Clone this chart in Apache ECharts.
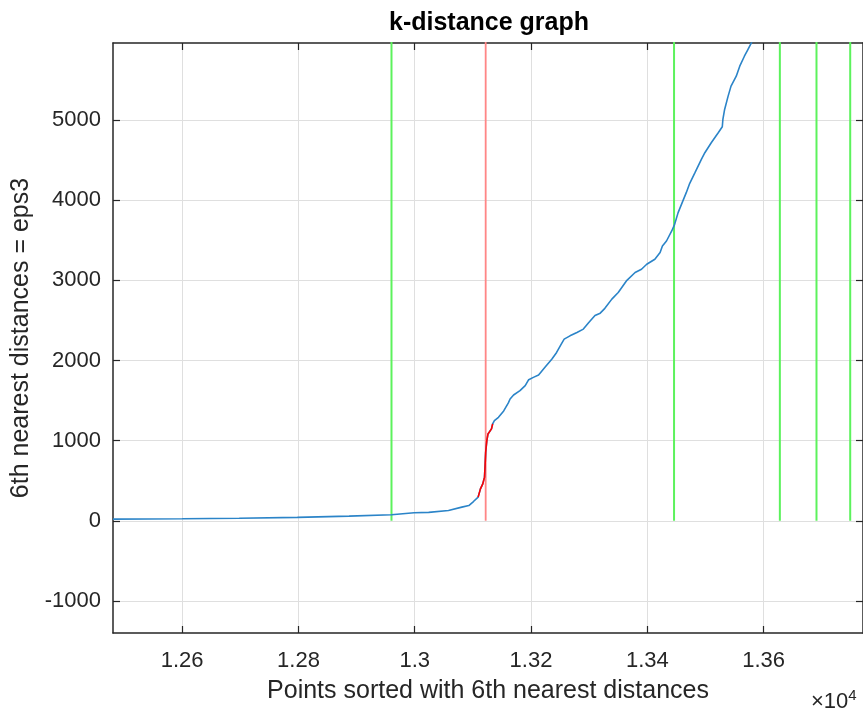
<!DOCTYPE html>
<html>
<head>
<meta charset="utf-8">
<title>k-distance graph</title>
<script src="https://cdn.jsdelivr.net/npm/echarts@6/dist/echarts.min.js"></script>
<style>
  html, body { margin: 0; padding: 0; background: #fff; }
  #chart { width: 863px; height: 709px; }
</style>
</head>
<body>
<div id="chart"></div>
<script>
// Sorted 6th-nearest-neighbour distances (point index vs distance)
const pointIndex = [
  12481, 12600, 12698, 12798, 12887, 12960, 12999, 13024, 13058, 13081,
  13093, 13101, 13109, 13113, 13117, 13120, 13121, 13122, 13124, 13126,
  13132, 13134, 13137, 13144, 13153, 13161, 13164, 13170, 13181, 13190,
  13196, 13204, 13213, 13224, 13236, 13244, 13252, 13257, 13267, 13279,
  13290, 13299, 13310, 13319, 13327, 13339, 13350, 13364, 13379, 13390,
  13399, 13413, 13422, 13426, 13433, 13442, 13447, 13453, 13460, 13467,
  13473, 13482, 13493, 13499, 13510, 13522, 13529, 13530, 13533, 13539,
  13544, 13553, 13559, 13567, 13573, 13579, 13583
];
const distance6 = [
  20, 26, 32, 42, 58, 75, 100, 105, 128, 170,
  190, 240, 295, 398, 460, 544, 689, 855, 1000, 1083,
  1146, 1208, 1249, 1291, 1370, 1470, 1519, 1569, 1623, 1685,
  1760, 1789, 1818, 1914, 2017, 2100, 2204, 2266, 2307, 2349,
  2391, 2470, 2560, 2590, 2650, 2765, 2848, 2992, 3097, 3138,
  3200, 3263, 3346, 3428, 3490, 3615, 3698, 3844, 3969, 4093,
  4210, 4342, 4508, 4591, 4716, 4840, 4915, 5006, 5131, 5297,
  5422, 5546, 5671, 5795, 5878, 5961, 6050
];

// Knee region highlighted in red
const kneeRange = [13109, 13134];
// Chosen eps threshold (red) and other candidate thresholds (green)
const epsMarker = [13122];
const candidateMarkers = [12960, 13446, 13628, 13691, 13749];

// Axis ticks
const xTickValues = [12600, 12800, 13000, 13200, 13400, 13600];
const xTickLabels = ['1.26', '1.28', '1.3', '1.32', '1.34', '1.36'];
const yTickValues = [-1000, 0, 1000, 2000, 3000, 4000, 5000];
const yTickLabels = ['-1000', '0', '1000', '2000', '3000', '4000', '5000'];

const X_MIN = 12481, X_MAX = 13771;
const Y_MIN = -1400, Y_MAX = 5960;

const textColor = '#262626';
const axisColor = '#262626';
const gridColor = '#dfdfdf';
const FONT = '"Liberation Sans", Arial, Helvetica, sans-serif';

const curve = pointIndex.map((x, i) => [x, distance6[i]]);
const kneeCurve = curve.filter(p => p[0] >= kneeRange[0] && p[0] <= kneeRange[1]);

function verticalSeries(x, color, width) {
  return {
    type: 'line',
    xAxisIndex: 0,
    yAxisIndex: 0,
    data: [[x, 0], [x, 8000]],
    symbol: 'none',
    silent: true,
    clip: true,
    lineStyle: { color: color, width: width },
    z: 2
  };
}

const chart = echarts.init(document.getElementById('chart'), null, { renderer: 'canvas' });

const tickFormatter = (vals, labels) => v => {
  const k = vals.indexOf(v);
  return k >= 0 ? labels[k] : '';
};

chart.setOption({
  animation: false,
  backgroundColor: '#ffffff',
  // the plot box runs slightly past the right edge of the canvas
  grid: { left: 113, top: 43, width: 752, height: 591, containLabel: false },
  xAxis: [
    {
      type: 'value', position: 'bottom', min: X_MIN, max: X_MAX,
      name: 'Points sorted with 6th nearest distances',
      nameLocation: 'middle', nameGap: 46,
      nameTextStyle: { fontFamily: FONT, fontSize: 25, color: textColor },
      axisLine: { show: true, onZero: false, lineStyle: { color: axisColor, width: 1.5 } },
      axisTick: { show: true, inside: true, length: 7, customValues: xTickValues, lineStyle: { color: axisColor, width: 1.2 } },
      axisLabel: {
        customValues: xTickValues, formatter: tickFormatter(xTickValues, xTickLabels),
        fontFamily: FONT, fontSize: 22, color: textColor, margin: 17
      },
      splitLine: { show: true, lineStyle: { color: gridColor, width: 1 } }
    },
    {
      type: 'value', position: 'top', min: X_MIN, max: X_MAX,
      axisLine: { show: true, onZero: false, lineStyle: { color: axisColor, width: 1.5 } },
      axisTick: { show: true, inside: true, length: 7, customValues: xTickValues, lineStyle: { color: axisColor, width: 1.2 } },
      axisLabel: { show: false },
      splitLine: { show: false }
    }
  ],
  yAxis: [
    {
      type: 'value', position: 'left', min: Y_MIN, max: Y_MAX,
      name: '6th nearest distances = eps3',
      nameLocation: 'middle', nameGap: 70, nameRotate: 90,
      nameTextStyle: { fontFamily: FONT, fontSize: 25, color: textColor },
      axisLine: { show: true, onZero: false, lineStyle: { color: axisColor, width: 1.5 } },
      axisTick: { show: true, inside: true, length: 7, customValues: yTickValues, lineStyle: { color: axisColor, width: 1.2 } },
      axisLabel: {
        customValues: yTickValues, formatter: tickFormatter(yTickValues, yTickLabels),
        fontFamily: FONT, fontSize: 22, color: textColor, margin: 12
      },
      splitLine: { show: true, lineStyle: { color: gridColor, width: 1 } }
    },
    {
      type: 'value', position: 'right', min: Y_MIN, max: Y_MAX,
      axisLine: { show: true, onZero: false, lineStyle: { color: axisColor, width: 1.5 } },
      axisTick: { show: true, inside: true, length: 7, customValues: yTickValues, lineStyle: { color: axisColor, width: 1.2 } },
      axisLabel: { show: false },
      splitLine: { show: false }
    }
  ],
  graphic: [
    {
      type: 'text', x: 489, y: 23,
      style: {
        text: 'k-distance graph', fill: '#000', textAlign: 'center', textVerticalAlign: 'middle',
        font: 'bold 25px ' + FONT
      }
    },
    {
      type: 'text', x: 811, y: 688,
      style: {
        text: '×10{sup|4}', fill: textColor, textAlign: 'left', textVerticalAlign: 'top',
        font: '22px ' + FONT,
        rich: { sup: { fontSize: 15, fontFamily: FONT, fill: textColor, verticalAlign: 'top', padding: [0, 0, 12, 0] } }
      }
    }
  ],
  series: [
    ...candidateMarkers.map(x => verticalSeries(x, '#5cf25c', 2)),
    ...epsMarker.map(x => verticalSeries(x, '#ff8686', 1.8)),
    {
      type: 'line', xAxisIndex: 0, yAxisIndex: 0,
      data: curve, symbol: 'none', silent: true, clip: true,
      lineStyle: { color: '#2b84c8', width: 1.6 }, z: 3
    },
    {
      type: 'line', xAxisIndex: 0, yAxisIndex: 0,
      data: kneeCurve, symbol: 'none', silent: true, clip: true,
      lineStyle: { color: '#ff0000', width: 1.6 }, z: 4
    }
  ]
});
</script>
</body>
</html>
